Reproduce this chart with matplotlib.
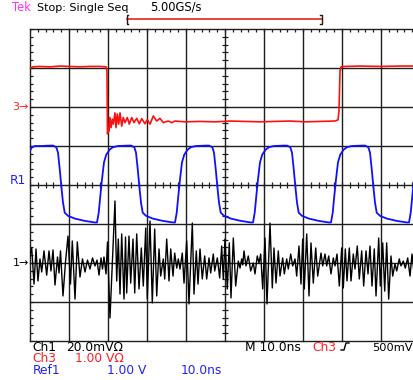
import numpy as np
import matplotlib
matplotlib.use("Agg")
import matplotlib.pyplot as plt
from matplotlib.lines import Line2D

# ---------------- data (time in ns, amplitudes in channel units) ----------------
ch3_t = [0.0, 0.77, 2.56, 5.13, 7.69, 10.26, 12.82, 15.38, 17.95, 19.49, 19.74, 19.87,
         20.08, 20.26, 20.51, 20.77, 21.10, 21.36, 21.79, 22.05, 22.38, 22.74, 23.08,
         23.51, 23.92, 24.36, 24.95, 25.46, 26.08, 26.67, 27.36, 28.03, 28.64, 29.49,
         30.08, 30.77, 31.62, 32.49, 33.33, 34.18, 35.46, 36.33, 37.18, 39.74, 43.59,
         47.44, 51.28, 55.13, 58.97, 62.82, 66.67, 70.51, 74.36, 78.21, 78.97, 79.23,
         79.49, 79.74, 80.77, 84.62, 89.74, 94.87, 100.0]
ch3_v = [1.00, 1.03, 1.04, 1.03, 1.05, 1.04, 1.03, 1.04, 1.04, 1.03, 0.92, -0.69,
         -0.54, -0.62, -0.27, -0.53, -0.31, -0.44, -0.15, -0.53, -0.18, -0.44, -0.15,
         -0.49, -0.27, -0.40, -0.27, -0.44, -0.27, -0.40, -0.29, -0.43, -0.30, -0.43,
         -0.32, -0.44, -0.23, -0.36, -0.29, -0.40, -0.36, -0.40, -0.36, -0.38, -0.37,
         -0.38, -0.36, -0.37, -0.38, -0.37, -0.36, -0.38, -0.37, -0.36, -0.33, -0.10,
         0.92, 1.03, 1.04, 1.05, 1.04, 1.05, 1.05]

ref1_t = [0.0, 0.33, 1.21, 2.90,
          5.05, 5.90, 6.74, 7.18, 7.62, 8.03, 8.46, 8.90, 9.74, 11.46, 14.03, 16.59, 17.18,
          17.62, 18.03, 18.46, 18.97, 19.56, 20.44, 21.28, 22.56,
          25.05, 25.90, 26.74, 27.18, 27.62, 28.03, 28.46, 28.90, 29.74, 31.46, 34.03, 36.59, 37.18,
          37.62, 38.03, 38.46, 38.97, 39.56, 40.44, 41.28, 42.56,
          45.05, 45.90, 46.74, 47.18, 47.62, 48.03, 48.46, 48.90, 49.74, 51.46, 54.03, 56.59, 57.18,
          57.62, 58.03, 58.46, 58.97, 59.56, 60.44, 61.28, 62.56,
          65.05, 65.90, 66.74, 67.18, 67.62, 68.03, 68.46, 68.90, 69.74, 71.46, 74.03, 76.59, 77.18,
          77.62, 78.03, 78.46, 78.97, 79.56, 80.44, 81.28, 82.56,
          85.05, 85.90, 86.74, 87.18, 87.62, 88.03, 88.46, 88.90, 89.74, 91.46, 94.03, 96.59, 97.18,
          97.62, 98.03, 98.46, 98.97, 99.56, 100.0]
ref1_v = [0.87, 0.95, 1.00, 1.00,
          1.01, 1.01, 0.97, 0.83, 0.41, -0.03, -0.45, -0.71, -0.79, -0.86, -0.92, -0.96, -0.96,
          -0.71, -0.28, 0.14, 0.58, 0.78, 0.91, 0.97, 1.00,
          1.01, 1.01, 0.97, 0.83, 0.41, -0.03, -0.45, -0.71, -0.79, -0.86, -0.92, -0.96, -0.96,
          -0.71, -0.28, 0.14, 0.58, 0.78, 0.91, 0.97, 1.00,
          1.01, 1.01, 0.97, 0.83, 0.41, -0.03, -0.45, -0.71, -0.79, -0.86, -0.92, -0.96, -0.96,
          -0.71, -0.28, 0.14, 0.58, 0.78, 0.91, 0.97, 1.00,
          1.01, 1.01, 0.97, 0.83, 0.41, -0.03, -0.45, -0.71, -0.79, -0.86, -0.92, -0.96, -0.96,
          -0.71, -0.28, 0.14, 0.58, 0.78, 0.91, 0.97, 1.00,
          1.01, 1.01, 0.97, 0.83, 0.41, -0.03, -0.45, -0.71, -0.79, -0.86, -0.92, -0.96, -0.96,
          -0.71, -0.28, 0.14, 0.58, 0.78, 0.85]

ch1_t = [0.0, 0.44, 1.03, 1.54, 2.05, 2.56, 3.0, 3.59, 4.28, 4.87, 5.38, 5.90, 6.41, 7.05,
         7.44, 7.82, 8.46, 9.10, 9.74, 10.38, 10.85, 11.54, 12.13, 12.82, 13.46, 14.10,
         14.74, 15.38, 16.03, 16.67, 17.18, 17.69, 18.21, 18.59, 18.97, 19.49, 19.87,
         20.51, 21.79, 22.23, 22.64, 23.08, 23.51, 24.10, 24.49, 24.79, 25.38, 25.82,
         26.41, 26.85, 27.36, 27.95, 28.54, 29.05, 29.67, 30.08, 30.77, 31.36, 31.97,
         32.49, 33.08, 33.51, 34.18, 34.54, 35.05, 35.64, 36.08, 36.67, 37.10, 37.62,
         38.03, 38.46, 39.05, 39.49, 40.18, 40.77, 41.62, 42.05, 42.64, 43.08, 43.59,
         44.18, 44.79, 45.31, 45.90, 46.33, 47.00, 47.36, 48.03, 48.64, 49.15, 49.56,
         50.00, 50.59, 51.10, 51.54, 52.13, 52.74, 53.41, 53.85, 54.28, 54.56, 54.87,
         55.38, 55.97, 56.59, 57.26, 57.69, 58.28, 58.72, 59.15, 59.67, 60.26, 60.77,
         61.54, 62.13, 62.56, 63.08, 63.67, 64.10, 64.79, 65.21, 65.82, 66.23, 66.85,
         67.36, 67.95, 68.38, 68.97, 69.49, 69.92, 70.33, 70.95, 71.54, 72.05, 72.64,
         73.26, 73.77, 74.62, 75.05, 75.64, 76.08, 76.59, 77.18, 77.77, 78.21, 78.72,
         79.31, 79.92, 80.33, 80.85, 81.28, 81.87, 82.31, 82.90, 83.33, 83.92, 84.44,
         85.05, 85.56, 86.15, 86.67, 87.18, 87.69, 88.28, 88.72, 89.41, 89.82, 90.44,
         90.95, 91.46, 91.97, 92.56, 93.00, 93.59, 94.03, 94.69, 95.13, 95.72, 96.23,
         96.85, 97.44, 97.95, 98.46]
ch1_mv = [3.6, 7.7, -10.8, 7.2, -9.2, 2.1, -4.6, 6.2, -6.2, 6.2, -4.1, 6.7, -11.3, 3.1,
          -5.1, 6.2, -16.9, 0.5, 13.8, -10.8, 11.3, -18.5, 10.8, -7.2, 2.1, -4.6,
          1.5, -3.1, 2.6, -1.5, 1.5, -6.2, 2.6, -3.1, 3.1, -5.6, 10.8,
          -28.2, 31.8, -9.2, 12.3, -15.9, 14.9, -18.5, 13.3, -15.4, 13.8, -10.3,
          12.3, -15.4, 14.9, -13.3, 7.7, -11.8, 17.9, -18.5, 21.5, -20.5, 17.4,
          -16.9, 7.2, -6.7, 2.1, -8.2, 12.3, -9.2, 7.2, -6.7, 5.1, -2.6,
          2.1, -3.1, 5.1, -10.3, 11.3, -21.0, 20.5, -15.9, 6.2, -10.8, 7.2,
          -8.2, 3.6, -8.2, 2.6, -5.1, 4.6, -4.1, 2.6, -7.7, 8.7, -8.2,
          12.3, -13.3, 10.3, -17.9, 12.8, -11.8, 1.0, -2.6, 2.1, -1.0, 6.2,
          -1.5, 3.6, -4.1, 0.0, -5.6, 3.6, 0.0, 4.6, -13.3, 12.8, -21.0,
          20.5, -12.8, 7.7, -10.3, 6.2, -6.7, 2.6, -5.6, 2.1, -3.1, 4.6,
          -1.5, 2.1, -6.7, 8.7, -10.8, 12.3, -13.3, 14.9, -16.9, 10.3, -10.3,
          7.7, -6.7, 5.1, -1.5, 4.6, -1.5, 3.6, -5.6, 2.6, -1.5, 4.6,
          -11.8, 7.7, -12.8, 7.2, -9.2, 7.7, -9.2, 4.6, -3.1, 8.7, -8.2,
          6.2, -11.8, 6.2, -5.6, 8.7, -11.8, 7.2, -16.9, 12.8, -11.8, 10.3,
          -14.4, 10.3, -18.5, 3.6, -6.7, -0.5, -4.1, 2.1, -1.5, 1.0, -2.6,
          2.6, -6.7, 4.6, -5.1]

# channel settings (scale per division and marker position in divisions)
ch1_scale, ch1_pos = 20.0, -2.0     # mV/div
ch3_scale, ch3_pos = 1.0, 2.0       # V/div
ref1_scale, ref1_pos = 1.0, 0.0     # V/div
t_per_div = 10.0                    # ns/div

# ---------------- figure ----------------
W, H = 414, 380
fig = plt.figure(figsize=(W / 100, H / 100), dpi=100)
fig.patch.set_facecolor("white")
ax = fig.add_axes([30 / W, 1 - 341 / H, 390 / W, 312 / H])
ax.set_xlim(0, 10 * t_per_div)
ax.set_ylim(-4, 4)
ax.axis("off")

GRID = "#1e1e1e"
for k in range(11):
    ax.axvline(k * t_per_div, color=GRID, lw=1.0, zorder=1, clip_on=False)
for k in range(-4, 5):
    ax.axhline(k, color=GRID, lw=1.0, zorder=1, clip_on=False)

# minor tick marks on graticule
minor_x = np.arange(0, 100.1, 2.0)
minor_y = np.arange(-4, 4.01, 0.2)
tl_y = 3 / 39.0
tl_x = 3 / 3.9
ax.vlines(minor_x, -tl_y, tl_y, color=GRID, lw=0.9, zorder=1)
ax.vlines(minor_x, 4 - tl_y, 4, color=GRID, lw=0.9, zorder=1)
ax.hlines(minor_y, 50 - tl_x, 50 + tl_x, color=GRID, lw=0.9, zorder=1)
ax.hlines(minor_y, 0, tl_x, color=GRID, lw=0.9, zorder=1)

# traces
ax.plot(ref1_t, np.array(ref1_v) / ref1_scale + ref1_pos, color="#1010ff", lw=1.3, zorder=3)
ax.plot(ch3_t, np.array(ch3_v) / ch3_scale + ch3_pos, color="#ff1010", lw=1.2, zorder=3)
ax.plot(ch1_t, np.array(ch1_mv) / ch1_scale + ch1_pos, color="black", lw=1.0, zorder=4)

# ---------------- text ----------------
FS = 8.8
RED, BLUE, MAG = "#ff2020", "#2020ff", "#ff30ff"


def txt(x, y, s, color="black", **kw):
    kw.setdefault("va", "baseline")
    kw.setdefault("fontsize", FS)
    fig.text(x / W, 1 - y / H, s, color=color, family="DejaVu Sans", **kw)


txt(12, 11, "Tek", MAG, fontsize=8.3)
txt(37, 11, "Stop: Single Seq", "black", fontsize=8.0)
txt(150, 11, "5.00GS/s", "black", fontsize=8.3)

txt(32, 351, "Ch1", "black")
txt(66, 351, "20.0mVΩ", "black")
txt(245, 351, "M 10.0ns", "black")
txt(312, 351, "Ch3", RED)
txt(372, 351, "500mV", "black", fontsize=8.2)
txt(32, 362.5, "Ch3", RED)
txt(75, 362.5, "1.00 VΩ", RED)
txt(33, 374, "Ref1", BLUE)
txt(107, 374, "1.00 V", BLUE)
txt(181, 374, "10.0ns", BLUE)

# channel markers
txt(29, 107, "3→", RED, ha="right", va="center", fontsize=8)
txt(26, 181, "R1", BLUE, ha="right", va="center")
txt(29, 263, "1→", "black", ha="right", va="center", fontsize=8)


def fline(xs, ys, color, lw=1.0):
    fig.add_artist(Line2D([x / W for x in xs], [1 - y / H for y in ys],
                          color=color, lw=lw, transform=fig.transFigure))


# trigger slope symbol
fline([341, 344, 346, 349], [350, 350, 343, 343], "black", 1.0)
# record window bracket
fline([127, 322], [19, 19], "#e01010", 1.1)
fline([128.5, 127, 127, 128.5], [15, 15, 24, 24], "#301010", 1.0)
fline([320.5, 322, 322, 320.5], [15, 15, 24, 24], "#301010", 1.0)

fig.savefig("out.png", dpi=100, facecolor="white")
